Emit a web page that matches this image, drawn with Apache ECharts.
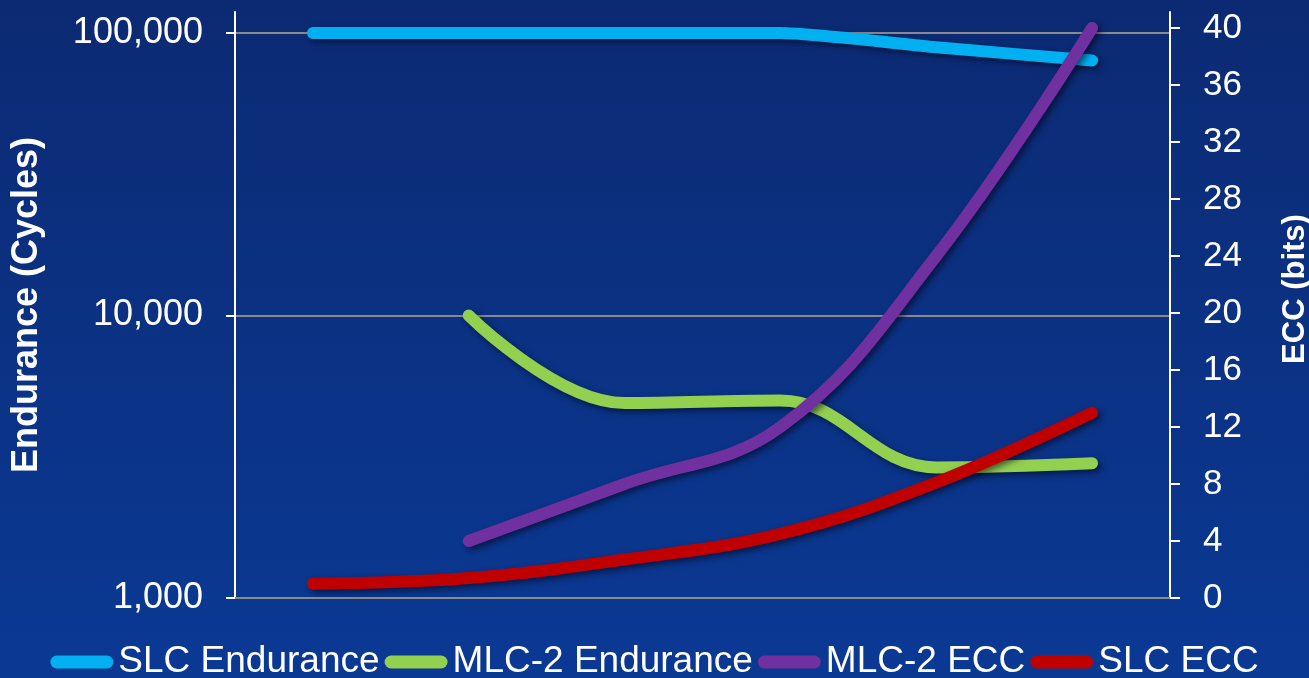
<!DOCTYPE html>
<html>
<head>
<meta charset="utf-8">
<script src="https://cdn.jsdelivr.net/npm/echarts@6/dist/echarts.min.js"></script>
<style>
html,body{margin:0;padding:0;background:#0b3286;}
#chart{width:1309px;height:678px;}
</style>
</head>
<body>
<div id="chart"></div>
<script>
const categories = ['P1', 'P2', 'P3', 'P4', 'P5', 'P6'];
const slcEndurance = [100000, 100000, 100000, 100000, 89000, 80000];
const mlc2Endurance = [null, 10000, 4900, 5000, 2900, 3000];
const mlc2Ecc = [null, 4, 8, 12, 24, 40];
const slcEcc = [1, 1.4, 2.7, 4.5, 8.1, 13];
const leftTicks = [1000, 10000, 100000];
const rightTicks = [0, 4, 8, 12, 16, 20, 24, 28, 32, 36, 40];
const seriesNames = ['SLC Endurance', 'MLC-2 Endurance', 'MLC-2 ECC', 'SLC ECC'];
const colors = ['#00B0F0', '#92D050', '#7030A0', '#C00000'];

const chart = echarts.init(document.getElementById('chart'), null, {renderer: 'canvas'});
const shadow = {shadowColor: 'rgba(0,0,20,0.55)', shadowBlur: 6, shadowOffsetX: 3, shadowOffsetY: 3};
function mkSeries(name, data, color, yIndex, smooth) {
  return {
    name: name, type: 'line', data: data, yAxisIndex: yIndex,
    smooth: smooth, symbol: 'none', connectNulls: false,
    lineStyle: Object.assign({color: color, width: 12, cap: 'round', join: 'round'}, shadow),
    itemStyle: {color: color},
    emphasis: {disabled: true}
  };
}
const pill = 'path://M6.5,0 H56.5 A6.5,6.5 0 0 1 56.5,13 H6.5 A6.5,6.5 0 0 1 6.5,0 Z';
chart.setOption({
  animation: false,
  backgroundColor: {type: 'linear', x: 0, y: 0, x2: 0, y2: 1,
    colorStops: [{offset: 0, color: '#0c2a73'}, {offset: 1, color: '#0a3994'}]},
  grid: {left: 235, right: 139, top: 12, bottom: 80, outerBoundsMode: 'none', containLabel: false},
  legend: {
    data: seriesNames.map(n => ({name: n, icon: pill})),
    left: 'center', top: 642, padding: 0,
    itemWidth: 63, itemHeight: 13, itemGap: 5,
    textStyle: {color: '#ffffff', fontFamily: 'Arial, "Liberation Sans", sans-serif', fontSize: 37, lineHeight: 40}
  },
  xAxis: {
    type: 'category', data: categories, boundaryGap: true,
    axisLine: {show: true, lineStyle: {color: '#8a8a8a', width: 2}},
    axisTick: {show: false}, axisLabel: {show: false}, splitLine: {show: false}
  },
  yAxis: [
    {
      type: 'log', logBase: 10, min: 1000, max: 118700, position: 'left',
      name: 'Endurance (Cycles)', nameLocation: 'middle', nameGap: 190, nameRotate: 90,
      nameTextStyle: {color: '#ffffff', fontFamily: 'Arial, "Liberation Sans", sans-serif', fontSize: 36, fontWeight: 'bold',
        padding: [0, 0, 0, 0]},
      axisLine: {show: true, lineStyle: {color: '#ffffff', width: 2}},
      axisTick: {show: true, inside: false, length: 9, lineStyle: {color: '#ffffff', width: 2}, customValues: leftTicks},
      axisLabel: {color: '#ffffff', fontFamily: 'Arial, "Liberation Sans", sans-serif', fontSize: 36, margin: 32,
        customValues: leftTicks,
        formatter: v => Math.round(v).toLocaleString('en-US')},
      splitLine: {show: true, lineStyle: {color: '#8a8a8a', width: 2}}
    },
    {
      type: 'value', min: 0, max: 41.12, interval: 4, position: 'right',
      name: 'ECC (bits)', nameLocation: 'middle', nameGap: 110, nameRotate: 90,
      nameTextStyle: {color: '#ffffff', fontFamily: 'Arial, "Liberation Sans", sans-serif', fontSize: 31, fontWeight: 'bold',
        padding: [0, 0, 0, 32]},
      axisLine: {show: true, lineStyle: {color: '#ffffff', width: 2}},
      axisTick: {show: true, inside: false, length: 10, lineStyle: {color: '#ffffff', width: 2}, customValues: rightTicks},
      axisLabel: {color: '#ffffff', fontFamily: 'Arial, "Liberation Sans", sans-serif', fontSize: 35, margin: 33,
        customValues: rightTicks},
      splitLine: {show: false}
    }
  ],
  series: [
    mkSeries(seriesNames[0], slcEndurance, colors[0], 0, 0.2),
    mkSeries(seriesNames[1], mlc2Endurance, colors[1], 0, 0.4),
    mkSeries(seriesNames[2], mlc2Ecc, colors[2], 1, 0.4),
    mkSeries(seriesNames[3], slcEcc, colors[3], 1, 0.4)
  ]
});
</script>
</body>
</html>
